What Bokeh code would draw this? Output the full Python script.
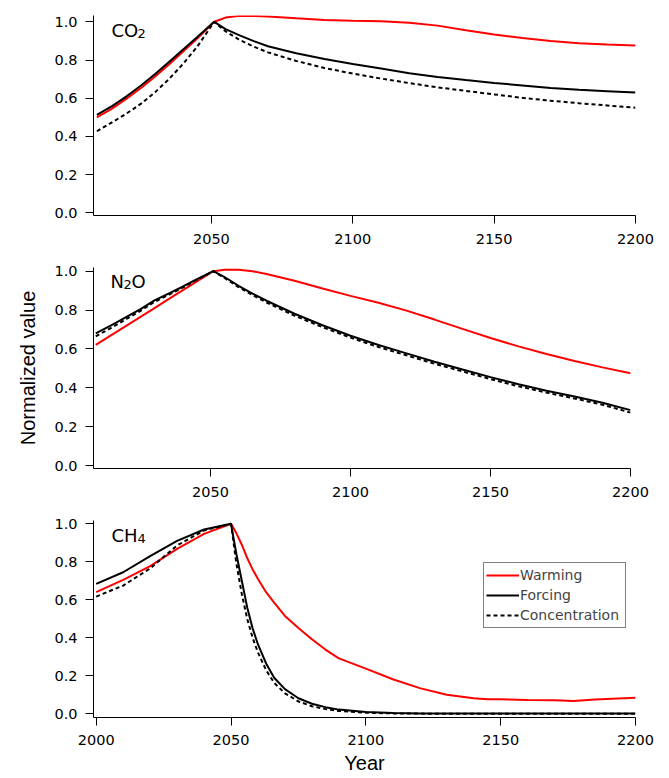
from bokeh.plotting import figure
from bokeh.models import Range1d, FixedTicker, PrintfTickFormatter, Label, Legend, LegendItem
from bokeh.layouts import column
from bokeh.embed import file_html
from bokeh.resources import INLINE

# ---------------- data ----------------
co2_years = [2009.5, 2015, 2020, 2025, 2030, 2035, 2040, 2045, 2051, 2055, 2060, 2065, 2070,
             2080, 2090, 2100, 2110, 2120, 2130, 2140, 2150, 2160, 2170, 2180, 2190, 2200]
co2_warming = [0.500, 0.547, 0.598, 0.652, 0.712, 0.777, 0.845, 0.912, 1.000, 1.022, 1.031, 1.031, 1.028,
               1.018, 1.010, 1.006, 1.003, 0.995, 0.980, 0.956, 0.934, 0.915, 0.900, 0.888, 0.881, 0.876]
co2_forcing = [0.513, 0.560, 0.610, 0.665, 0.725, 0.790, 0.855, 0.920, 1.000, 0.962, 0.929, 0.899, 0.872,
               0.835, 0.805, 0.779, 0.755, 0.731, 0.711, 0.695, 0.680, 0.667, 0.654, 0.644, 0.637, 0.630]
co2_conc = [0.427, 0.475, 0.520, 0.570, 0.630, 0.700, 0.780, 0.870, 1.000, 0.950, 0.905, 0.870, 0.840,
            0.795, 0.758, 0.729, 0.703, 0.679, 0.657, 0.638, 0.620, 0.602, 0.587, 0.574, 0.562, 0.550]

n2o_years = [2009, 2015, 2020, 2025, 2030, 2035, 2040, 2045, 2051, 2055, 2060, 2065, 2070,
             2080, 2090, 2100, 2110, 2120, 2130, 2140, 2150, 2160, 2170, 2180, 2190, 2200]
n2o_warming = [0.621, 0.675, 0.720, 0.765, 0.810, 0.856, 0.901, 0.946, 1.000, 1.008, 1.008, 1.000, 0.986,
               0.951, 0.911, 0.873, 0.838, 0.797, 0.751, 0.703, 0.656, 0.613, 0.574, 0.538, 0.505, 0.475]
n2o_forcing = [0.680, 0.725, 0.765, 0.805, 0.850, 0.885, 0.920, 0.958, 1.000, 0.970, 0.925, 0.885, 0.848,
               0.781, 0.722, 0.668, 0.620, 0.577, 0.534, 0.494, 0.455, 0.418, 0.385, 0.355, 0.323, 0.285]
n2o_conc = [0.665, 0.712, 0.754, 0.796, 0.842, 0.878, 0.915, 0.955, 1.000, 0.965, 0.918, 0.877, 0.839,
            0.771, 0.712, 0.658, 0.610, 0.567, 0.524, 0.484, 0.445, 0.408, 0.375, 0.345, 0.313, 0.272]

ch4_years = [2000, 2010, 2020, 2030, 2040, 2050, 2052, 2054, 2056, 2058, 2060, 2063, 2066, 2070, 2075,
             2080, 2085, 2090, 2100, 2110, 2120, 2130, 2140, 2145, 2150, 2160, 2170, 2177, 2185, 2200]
ch4_warming = [0.640, 0.705, 0.777, 0.868, 0.947, 1.000, 0.950, 0.890, 0.820, 0.760, 0.710, 0.640, 0.585,
               0.515, 0.452, 0.392, 0.338, 0.292, 0.238, 0.182, 0.135, 0.100, 0.082, 0.077, 0.076,
               0.072, 0.071, 0.067, 0.075, 0.084]
ch4_forcing = [0.684, 0.745, 0.830, 0.910, 0.970, 1.000, 0.840, 0.700, 0.560, 0.450, 0.365, 0.265, 0.190,
               0.130, 0.082, 0.053, 0.035, 0.022, 0.009, 0.004, 0.002, 0.001, 0.001, 0.001, 0.001,
               0.001, 0.001, 0.001, 0.001, 0.001]
ch4_conc = [0.617, 0.675, 0.765, 0.886, 0.965, 1.000, 0.790, 0.630, 0.500, 0.400, 0.322, 0.230, 0.163,
            0.108, 0.065, 0.040, 0.025, 0.015, 0.006, 0.002, 0.001, 0.000, 0.000, 0.000, 0.000,
            0.000, 0.000, 0.000, 0.000, 0.000]

y_ticks = [0.0, 0.2, 0.4, 0.6, 0.8, 1.0]
x_ticks_top = [2050, 2100, 2150, 2200]
x_ticks_bottom = [2000, 2050, 2100, 2150, 2200]

legend_labels = ["Warming", "Forcing", "Concentration"]
y_title = "Normalized value"
x_title = "Year"

RED = "#ff0000"
TICK_FONT = "DejaVu Sans"
LABEL_FONT = "Liberation Sans"


def make_fig(xr, yr, fw, fh, mb_top, mb_bottom, mb_right, xticks):
    p = figure(frame_width=fw, frame_height=fh,
               x_range=Range1d(*xr), y_range=Range1d(*yr),
               output_backend="svg", toolbar_location=None,
               min_border_left=93, min_border_right=mb_right,
               min_border_top=mb_top, min_border_bottom=mb_bottom)
    p.outline_line_color = None
    p.grid.visible = False
    p.background_fill_color = "white"
    p.border_fill_color = "white"
    for ax in (p.xaxis[0], p.yaxis[0]):
        ax.axis_line_color = "black"
        ax.axis_line_width = 1
        ax.major_tick_line_color = "black"
        ax.major_tick_out = 8
        ax.major_tick_in = 0
        ax.minor_tick_line_color = None
        ax.major_label_text_font = TICK_FONT
        ax.major_label_text_font_size = "14.5px"
        ax.major_label_text_color = "black"
        ax.axis_label_text_font = LABEL_FONT
        ax.axis_label_text_font_size = "20px"
        ax.axis_label_text_font_style = "normal"
        ax.axis_label_text_color = "black"
    p.xaxis[0].ticker = FixedTicker(ticks=xticks)
    p.xaxis[0].major_label_standoff = 10
    p.yaxis[0].ticker = FixedTicker(ticks=y_ticks)
    p.yaxis[0].formatter = PrintfTickFormatter(format="%.1f")
    p.yaxis[0].major_label_standoff = 8
    return p


def add_lines(p, years, warm, forc, conc):
    r1 = p.line(years, warm, line_color=RED, line_width=2)
    r2 = p.line(years, forc, line_color="black", line_width=2)
    r3 = p.line(years, conc, line_color="black", line_width=2, line_dash="4 3")
    return r1, r2, r3


def add_formula(p, parts, y_base, fh):
    # parts: list of (text, x_screen, is_subscript); y_base = baseline distance below frame top
    for txt, xs, sub in parts:
        p.add_layout(Label(x=xs, y=(fh - y_base - (3 if sub else 0)), x_units="screen", y_units="screen",
                           text=txt, text_font=TICK_FONT,
                           text_font_size=("13px" if sub else "18px"),
                           text_color="black", text_baseline="alphabetic", text_align="left"))


# panel 1: CO2
p1 = make_fig((2008.3, 2200), (-0.014, 1.033), 542, 200, 15, 40, 34, x_ticks_top)
add_lines(p1, co2_years, co2_warming, co2_forcing, co2_conc)
add_formula(p1, [("CO", 18, False), ("2", 44, True)], 15, 200)

# panel 2: N2O
p2 = make_fig((2008.2, 2200), (-0.0154, 1.019), 537, 201, 12, 40, 39, x_ticks_top)
add_lines(p2, n2o_years, n2o_warming, n2o_forcing, n2o_conc)
add_formula(p2, [("N", 17, False), ("2", 30, True), ("O", 38, False)], 14, 201)
p2.yaxis[0].axis_label = y_title
p2.yaxis[0].axis_label_standoff = 12

# panel 3: CH4
p3 = make_fig((1999.0, 2200), (-0.0195, 1.0174), 542, 197, 12, 61, 34, x_ticks_bottom)
r_w, r_f, r_c = add_lines(p3, ch4_years, ch4_warming, ch4_forcing, ch4_conc)
add_formula(p3, [("CH", 18, False), ("4", 44, True)], 14.5, 197)
p3.xaxis[0].axis_label = x_title
p3.xaxis[0].major_label_standoff = 9
p3.xaxis[0].axis_label_standoff = 4

legend = Legend(items=[LegendItem(label=legend_labels[0], renderers=[r_w]),
                       LegendItem(label=legend_labels[1], renderers=[r_f]),
                       LegendItem(label=legend_labels[2], renderers=[r_c])],
                location=(390, 89), margin=0, padding=2, spacing=0,
                glyph_width=33, glyph_height=20, label_height=20, label_width=103,
                label_standoff=1,
                label_text_font=TICK_FONT, label_text_font_size="14px",
                border_line_color="black", border_line_width=1,
                background_fill_color="white", background_fill_alpha=1.0)
p3.add_layout(legend, "center")

layout = column(p1, p2, p3, spacing=0)
open("out.html", "w").write(file_html(layout, INLINE))
